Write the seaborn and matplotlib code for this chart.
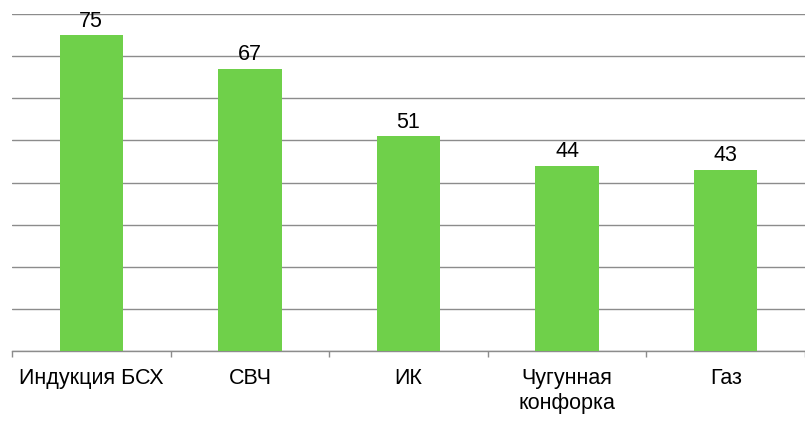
import numpy as np
import pandas as pd
import matplotlib
matplotlib.use("Agg")
import matplotlib.pyplot as plt
import seaborn as sns

# ==============================
# DATA
# ==============================
categories = ["Индукция БСХ", "СВЧ", "ИК", "Чугунная\nконфорка", "Газ"]
values = [75, 67, 51, 44, 43]

BAR_COLOR = "#6fd04a"
GRID_COLOR = "#8c8c8c"

# ==============================
# PLOT
# ==============================
sns.set_style("white")
plt.rcParams["font.family"] = ["Liberation Sans", "DejaVu Sans"]

df = pd.DataFrame({"cat": categories, "val": values})

fig = plt.figure(figsize=(8.05, 4.24), dpi=100)
ax = fig.add_axes([12 / 805, 1 - 351 / 424, 1 - 12 / 805, (351 - 14) / 424])

sns.barplot(data=df, x="cat", y="val", color=BAR_COLOR, width=0.4,
            saturation=1, linewidth=0, ax=ax, zorder=3)

ax.set_xlim(-0.5, len(categories) - 0.5)
ax.set_ylim(0, 80)
ax.set_yticks(np.arange(0, 81, 10))
ax.yaxis.grid(True, color=GRID_COLOR, linewidth=1)
ax.set_axisbelow(True)
ax.tick_params(axis="y", left=False, labelleft=False)

# category boundary ticks
ax.set_xticks(np.arange(-0.5, len(categories), 1), minor=True)
ax.tick_params(axis="x", which="major", bottom=False, length=0, pad=12.5,
               labelsize=15.5, labelcolor="black")
ax.tick_params(axis="x", which="minor", bottom=True, length=4.5, width=1,
               color=GRID_COLOR, direction="out")

for s in ["top", "right", "left"]:
    ax.spines[s].set_visible(False)
ax.spines["bottom"].set_color(GRID_COLOR)
ax.spines["bottom"].set_linewidth(1)

ax.set_xlabel("")
ax.set_ylabel("")

for i, v in enumerate(values):
    ax.text(i, v + 0.8, str(v), ha="center", va="bottom", fontsize=15.5, color="black")

fig.savefig("out.png", dpi=100)
